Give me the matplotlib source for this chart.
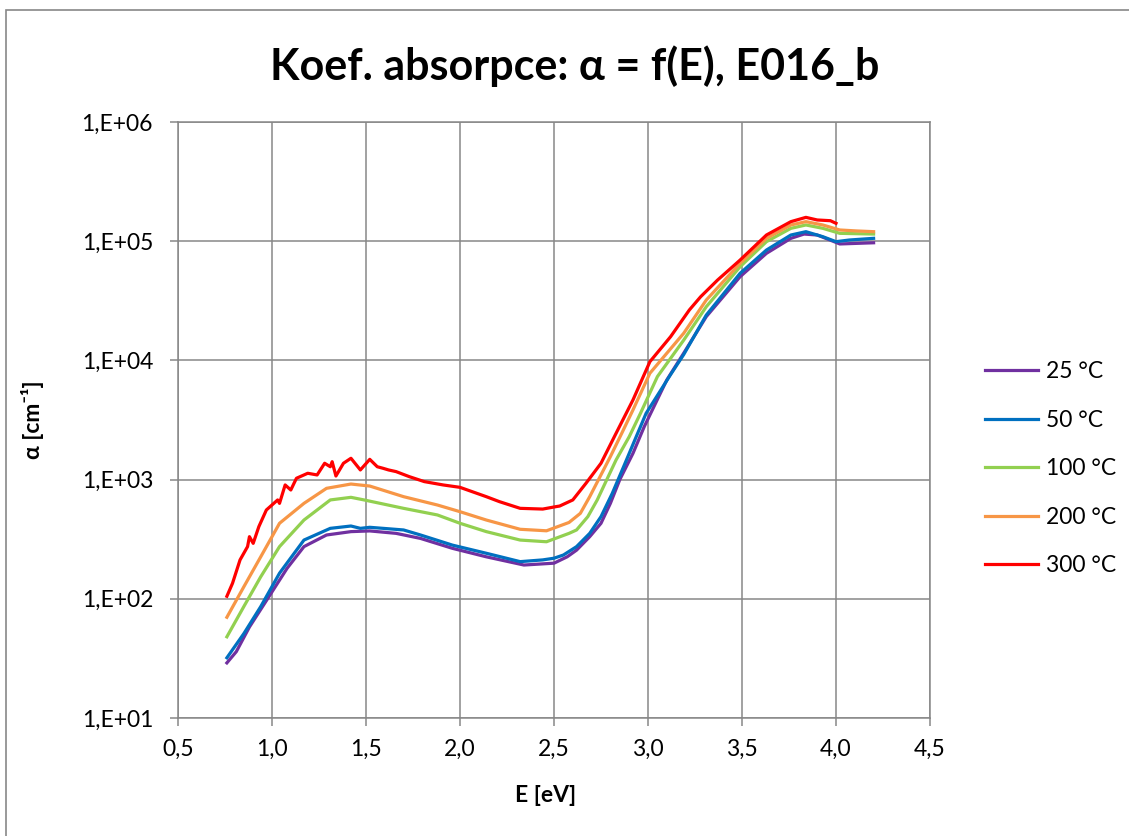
import matplotlib
matplotlib.use("Agg")
import matplotlib.pyplot as plt
import matplotlib.patches as patches

plt.rcParams['font.family'] = ['Lato', 'DejaVu Sans']

# Data (E in eV, alpha in cm^-1)
labels = ["25 °C", "50 °C", "100 °C", "200 °C", "300 °C"]
colors = ["#7030A0", "#0070C0", "#92D050", "#F79646", "#FF0000"]

e_25 = [0.76, 0.81, 0.88, 0.99, 1.08, 1.17, 1.29, 1.42, 1.52, 1.66, 1.79, 1.96, 2.14, 2.34, 2.50, 2.57,
        2.62, 2.69, 2.75, 2.80, 2.85, 2.92, 2.98, 3.10, 3.19, 3.31, 3.49, 3.63, 3.76, 3.83, 3.90, 3.99,
        4.02, 4.11, 4.20]
a_25 = [29, 36, 58, 108, 180, 274, 343, 366, 371, 354, 321, 265, 225, 192, 199, 225,
        256, 332, 430, 632, 1000, 1660, 2780, 6850, 11500, 23300, 50400, 79100, 105700, 114800, 112700, 99100,
        94800, 95900, 97000]

e_50 = [0.76, 0.85, 0.94, 1.04, 1.17, 1.31, 1.42, 1.47, 1.52, 1.70, 1.79, 1.96, 2.14, 2.32, 2.44, 2.50,
        2.55, 2.62, 2.69, 2.75, 2.81, 2.87, 2.93, 2.99, 3.12, 3.19, 3.31, 3.49, 3.63, 3.76, 3.84, 3.93,
        4.00, 4.07, 4.20]
a_50 = [32, 51, 86, 164, 311, 390, 408, 390, 398, 378, 343, 282, 241, 205, 212, 219,
        233, 274, 354, 489, 767, 1280, 2150, 3600, 7600, 11200, 24000, 53800, 84300, 112700, 120200, 109100,
        99100, 102300, 105700]

e_100 = [0.76, 0.85, 0.94, 1.04, 1.17, 1.31, 1.42, 1.49, 1.70, 1.88, 2.00, 2.14, 2.32, 2.46, 2.58,
         2.62, 2.68, 2.73, 2.83, 2.90, 2.96, 3.05, 3.19, 3.31, 3.49, 3.63, 3.76, 3.84, 3.93, 4.02, 4.20]
a_100 = [48, 86, 153, 274, 458, 675, 710, 675, 574, 505, 430, 366, 311, 301, 354,
         378, 489, 675, 1460, 2290, 3600, 7310, 14800, 28200, 61100, 99100, 128200, 136800, 128200, 116400, 114800]

e_200 = [0.76, 0.85, 0.94, 1.04, 1.17, 1.29, 1.42, 1.52, 1.70, 1.88, 2.00, 2.14, 2.32, 2.46, 2.58,
         2.64, 2.69, 2.80, 2.86, 2.92, 3.01, 3.19, 3.31, 3.49, 3.63, 3.76, 3.84, 3.93, 4.02, 4.11, 4.20]
a_200 = [70, 126, 225, 430, 632, 845, 918, 883, 719, 612, 538, 458, 383, 372, 437,
         521, 719, 1560, 2440, 3840, 7800, 16900, 32100, 65300, 105700, 136800, 145900, 136800, 124200,
         121900, 120200]

e_300 = [0.76, 0.79, 0.83, 0.87, 0.88, 0.90, 0.93, 0.97, 1.03, 1.04, 1.07, 1.10, 1.13, 1.19, 1.24,
         1.28, 1.31, 1.32, 1.34, 1.38, 1.42, 1.47, 1.52, 1.56, 1.59, 1.62, 1.66, 1.73, 1.81, 1.91,
         2.00, 2.14, 2.21, 2.32, 2.44, 2.51, 2.53, 2.60, 2.67, 2.75, 2.83, 2.92, 3.01, 3.12, 3.22,
         3.28, 3.37, 3.49, 3.63, 3.76, 3.84, 3.90, 3.97, 4.00]
a_300 = [105, 135, 212, 274, 332, 292, 403, 556, 675, 632, 902, 818, 1026, 1130, 1094,
         1371, 1282, 1413, 1072, 1371, 1510, 1205, 1479, 1282, 1245, 1205, 1167, 1059, 962, 902,
         861, 719, 653, 574, 566, 593, 600, 675, 931, 1371, 2443, 4656, 9750, 15800, 26500,
         34200, 47200, 69500, 112700, 145900, 158500, 150700, 148600, 141300]

x_ticks = [0.5, 1.0, 1.5, 2.0, 2.5, 3.0, 3.5, 4.0, 4.5]
x_tick_labels = ["0,5", "1,0", "1,5", "2,0", "2,5", "3,0", "3,5", "4,0", "4,5"]
y_ticks = [1e1, 1e2, 1e3, 1e4, 1e5, 1e6]
y_tick_labels = ["1,E+01", "1,E+02", "1,E+03", "1,E+04", "1,E+05", "1,E+06"]

series_e = [e_25, e_50, e_100, e_200, e_300]
series_a = [a_25, a_50, a_100, a_200, a_300]

GRID = "#878787"

fig = plt.figure(figsize=(11.29, 8.36), dpi=100)
ax = fig.add_axes([178 / 1129, 1 - 718 / 836, (930 - 178) / 1129, (718 - 122) / 836])

# rámeček grafu
fig.patches.append(patches.Rectangle((6 / 1129, -0.05), 1.1, 1 - 10 / 836 + 0.05,
                                     transform=fig.transFigure, fill=False,
                                     edgecolor=GRID, linewidth=1.2))

for e, a, lab, c in zip(series_e, series_a, labels, colors):
    ax.plot(e, a, color=c, lw=2.3, label=lab, solid_joinstyle="round")

ax.set_yscale("log")
ax.set_xlim(0.5, 4.5)
ax.set_ylim(1e1, 1e6)
ax.set_xticks(x_ticks)
ax.set_xticklabels(x_tick_labels)
ax.set_yticks(y_ticks)
ax.set_yticklabels(y_tick_labels)
ax.minorticks_off()

ax.grid(True, color=GRID, linewidth=1.1)
ax.set_axisbelow(True)
for s in ax.spines.values():
    s.set_color(GRID)
    s.set_linewidth(1.1)
ax.tick_params(axis="both", direction="out", length=6, width=1.1, color=GRID,
               labelsize=16.5)
ax.tick_params(axis="y", pad=12)
ax.tick_params(axis="x", pad=9)

fig.text(575 / 1129, 1 - 66 / 836, "Koef. absorpce: α = f(E), E016_b",
         ha="center", va="center", fontsize=31, fontweight="bold")
fig.text(546 / 1129, 1 - 795 / 836, "E [eV]", ha="center", va="center",
         fontsize=16.5, fontweight="bold")
fig.text(32 / 1129, 1 - 420 / 836, "α [cm⁻¹]", ha="center", va="center",
         rotation=90, fontsize=16.5, fontweight="bold")

fig.legend(loc="center left", bbox_to_anchor=(985 / 1129, 1 - 469 / 836),
           frameon=False, fontsize=16.5, handlelength=2.3, handletextpad=0.35,
           labelspacing=1.2, borderpad=0, borderaxespad=0)

fig.savefig("out.png", dpi=100)
